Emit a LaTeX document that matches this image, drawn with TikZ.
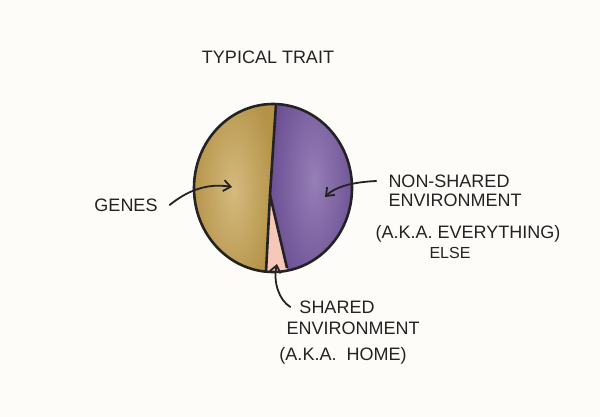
\documentclass[tikz,border=0pt]{standalone}
\usepackage{fontspec}
\setmainfont{Liberation Sans}
\usetikzlibrary{arrows.meta,calc}

\definecolor{paper}{RGB}{253,252,249}
\definecolor{ink}{RGB}{35,35,35}
\definecolor{genesgold}{RGB}{180,146,70}
\definecolor{genesgoldlight}{RGB}{212,186,126}
\definecolor{nonsharedpurple}{RGB}{108,80,148}
\definecolor{nonsharedpurplelight}{RGB}{150,126,182}
\definecolor{sharedpink}{RGB}{245,200,186}

\tikzset{
    lbl/.style   = {font=\fontsize{18}{20}\selectfont, text=ink, inner sep=0pt},
    outline/.style = {draw=ink, line width=2.6pt, line join=round},
    arr/.style   = {draw=ink, line width=1.8pt, line cap=round,
                    -{Straight Barb[length=7pt,width=11pt,line width=1.8pt]}}
}

\begin{document}
\begin{tikzpicture}[x=1pt,y=-1pt]
        \fill[paper] (0,0) rectangle (600,417);
        \useasboundingbox (0,0) rectangle (600,417);

        % Trait circle
        \coordinate (C)  at (273,188); % centre
        \coordinate (T)  at (276,104); % top of split
        \coordinate (A)  at (270,195); % apex of wedge
        \coordinate (B1) at (266,272); % wedge left foot
        \coordinate (B2) at (287,268); % wedge right foot

        \begin{scope}
        \clip (C) ellipse [x radius=79pt, y radius=84pt];
        \shade[inner color=genesgoldlight, outer color=genesgold]
                ($(A)!1.2!(T)$) -- (A) -- ($(A)!1.3!(B1)$) -- (190,300) -- (190,80) -- cycle; % genes
        \shade[inner color=nonsharedpurplelight, outer color=nonsharedpurple]
                ($(A)!1.2!(T)$) -- (A) -- ($(A)!1.3!(B2)$) -- (358,300) -- (358,60) -- cycle; % non-shared
        \fill[sharedpink] (A) -- ($(A)!1.3!(B1)$) -- ($(A)!1.3!(B2)$) -- cycle; % shared
        \end{scope}

        \draw[outline]  (C) ellipse [x radius=79pt, y radius=84pt];
        \draw[outline]  (T) -- (A) -- (B1);
        \draw[outline]  (A) -- (B2);

        % Labels
        \node[lbl] (title)  at (268, 57) {TYPICAL TRAIT};
        \node[lbl] (genes)  at (126,205) {GENES};
        \node[lbl] (nsA)    at (449,181) {NON-SHARED};
        \node[lbl] (nsB)    at (455,200) {ENVIRONMENT};
        \node[lbl] (nsC)    at (468,234) {(A.K.A. EVERYTHING)};
        \node[lbl, font=\fontsize{16}{18}\selectfont] (nsD) at (450,253) {ELSE};
        \node[lbl] (shA)    at (337,307) {SHARED};
        \node[lbl] (shB)    at (353,328) {ENVIRONMENT};
        \node[lbl] (shC)    at (343,356) {(A.K.A.\ \ HOME)};

        % Arrows
        \coordinate (genesTip)  at (232,187);
        \coordinate (nsTip)     at (325,197);
        \coordinate (shTip)     at (277,264);

        \draw[arr] ([xshift=12pt]genes.east) .. controls (188,190) and (208,183) .. (genesTip);
        \draw[arr] ([xshift=-12pt]nsA.west)  .. controls (355,182) and (336,186) .. (nsTip);
        \draw[arr] ([xshift=-9pt]shA.west)   .. controls (279,300) and (273,282) .. (shTip);
\end{tikzpicture}
\end{document}
